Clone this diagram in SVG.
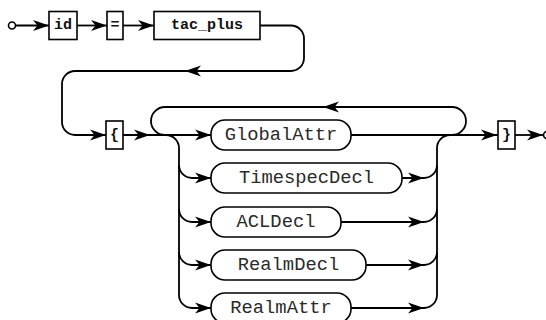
<svg xmlns="http://www.w3.org/2000/svg" width="546" height="320" viewBox="0 0 546 320">
  <defs>
    <!-- arrowhead pointing right, tip at the origin -->
    <path id="ah" d="M0,0 L-16,-5.5 L-11.5,0 L-16,5.5 Z" fill="#000"/>
  </defs>
  <style>
    .wire { fill: none; stroke: #000; stroke-width: 1.8; }
    .term rect { fill: #fff; stroke: #000; stroke-width: 1.6; }
    .term text { font-family: "Liberation Mono", "Courier New", monospace; font-weight: bold; font-size: 15px; fill: #111; text-anchor: middle; dominant-baseline: central; }
    .nterm rect { fill: #fff; stroke: #000; stroke-width: 1.6; }
    .nterm text { font-family: "Liberation Mono", "Courier New", monospace; font-size: 18.8px; fill: #2a2a2a; text-anchor: middle; dominant-baseline: central; }
    .end { fill: #fff; stroke: #000; stroke-width: 1.6; }
  </style>

  <!-- connectors -->
  <g id="connectors">
    <circle class="end" cx="12" cy="25.5" r="3.5"/>
    <path class="wire" d="M15.5,25.5 H49"/>
    <use href="#ah" transform="translate(49,25.5)"/>
    <path class="wire" d="M77,25.5 H107"/>
    <use href="#ah" transform="translate(107,25.5)"/>
    <path class="wire" d="M123,25.5 H154"/>
    <use href="#ah" transform="translate(154,25.5)"/>

    <!-- wrap from the first line down to the second -->
    <path class="wire" d="M260,25.5 H291 A13,13 0 0 1 304,38.5 V58 A13,13 0 0 1 291,71 H75 A13,13 0 0 0 62,84 V122 A13,13 0 0 0 75,135 H106"/>
    <use href="#ah" transform="translate(185,71) rotate(180)"/>
    <use href="#ah" transform="translate(106,135)"/>

    <!-- main line after { -->
    <path class="wire" d="M123,135 H211"/>
    <use href="#ah" transform="translate(150,135)"/>
    <use href="#ah" transform="translate(211,135)"/>
    <path class="wire" d="M351,135 H498"/>
    <use href="#ah" transform="translate(497,135)"/>

    <!-- repeat loop -->
    <path class="wire" d="M452,135 A14,14 0 0 0 466,121 A14,14 0 0 0 452,107 H165 A14,14 0 0 0 151,121 A14,14 0 0 0 165,135"/>
    <use href="#ah" transform="translate(323,107) rotate(180)"/>

    <!-- choice split -->
    <path class="wire" d="M166,135 A13,13 0 0 1 179,148 V295"/>
    <path class="wire" d="M179,165 A13,13 0 0 0 192,178 H211"/>
    <path class="wire" d="M179,209 A13,13 0 0 0 192,222 H211"/>
    <path class="wire" d="M179,252 A13,13 0 0 0 192,265 H211"/>
    <path class="wire" d="M179,295 A13,13 0 0 0 192,308 H211"/>
    <use href="#ah" transform="translate(211,178)"/>
    <use href="#ah" transform="translate(211,222)"/>
    <use href="#ah" transform="translate(211,265)"/>
    <use href="#ah" transform="translate(211,308)"/>

    <!-- choice join -->
    <path class="wire" d="M437,295 V148 A13,13 0 0 1 450,135"/>
    <path class="wire" d="M402,178 H424 A13,13 0 0 0 437,165"/>
    <path class="wire" d="M341,222 H424 A13,13 0 0 0 437,209"/>
    <path class="wire" d="M366,265 H424 A13,13 0 0 0 437,252"/>
    <path class="wire" d="M351,308 H424 A13,13 0 0 0 437,295"/>
    <use href="#ah" transform="translate(424,178)"/>
    <use href="#ah" transform="translate(424,222)"/>
    <use href="#ah" transform="translate(424,265)"/>
    <use href="#ah" transform="translate(424,308)"/>

    <!-- exit -->
    <path class="wire" d="M515,135 H543"/>
    <use href="#ah" transform="translate(543,135)"/>
    <circle class="end" cx="547" cy="135" r="3.5"/>
  </g>

  <!-- terminals -->
  <g id="t-id" class="term"><rect x="49" y="11.5" width="28" height="28"/><text x="63" y="25.5">id</text></g>
  <g id="t-eq" class="term"><rect x="107" y="11.5" width="16" height="28"/><text x="115" y="25.5">=</text></g>
  <g id="t-tac_plus" class="term"><rect x="154" y="11.5" width="106" height="28"/><text x="207" y="25.5">tac_plus</text></g>
  <g id="t-lbrace" class="term"><rect x="106" y="121" width="17" height="28"/><text x="114.5" y="135">{</text></g>
  <g id="t-rbrace" class="term"><rect x="498" y="121" width="17" height="28"/><text x="506.5" y="135">}</text></g>

  <!-- nonterminals -->
  <g id="n-GlobalAttr" class="nterm"><rect x="211" y="120" width="140" height="30" rx="14"/><text x="281" y="135">GlobalAttr</text></g>
  <g id="n-TimespecDecl" class="nterm"><rect x="211" y="163" width="191" height="30" rx="14"/><text x="306.5" y="178">TimespecDecl</text></g>
  <g id="n-ACLDecl" class="nterm"><rect x="211" y="207" width="130" height="30" rx="14"/><text x="276" y="222">ACLDecl</text></g>
  <g id="n-RealmDecl" class="nterm"><rect x="211" y="250" width="155" height="30" rx="14"/><text x="288.5" y="265">RealmDecl</text></g>
  <g id="n-RealmAttr" class="nterm"><rect x="211" y="293" width="140" height="30" rx="14"/><text x="281" y="308">RealmAttr</text></g>
</svg>
